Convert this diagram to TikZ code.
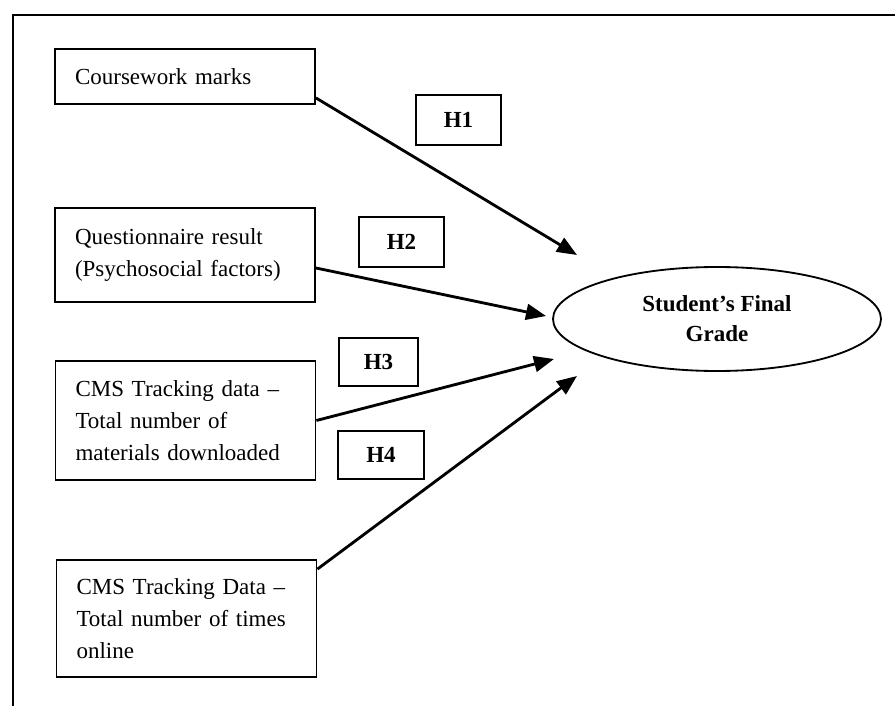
\documentclass[tikz,border=0pt]{standalone}
\usepackage{fontspec}
\setmainfont{Liberation Serif}
\usepackage{tikz}
\usetikzlibrary{arrows.meta,shapes.geometric,positioning}

\tikzset{
  inbox/.style={draw, line width=1.1pt, text width=132pt, align=left,
    inner xsep=12pt, minimum width=156pt,
    font=\fontsize{13.8}{19.2}\selectfont},
  hbox/.style={draw, line width=1.1pt, minimum width=51pt, minimum height=30pt,
    inner sep=0pt, font=\fontsize{13.8}{16}\selectfont\bfseries},
  outcome/.style={draw, ellipse, line width=1.1pt, minimum width=196.8pt,
    minimum height=62.4pt, inner sep=0pt, align=center,
    font=\fontsize{13.8}{18}\selectfont\bfseries},
  hyparrow/.style={line width=1.7pt, -{Triangle[length=12pt,width=9.5pt]}}
}

\begin{document}
\begin{tikzpicture}[x=0.6pt, y=-0.6pt]
  \useasboundingbox (0,0) rectangle (895,706);

  % frame (cut at right and bottom)
  \draw[line width=1.7pt] (13,706) -- (13,15) -- (895,15);

  % input boxes
  \node[inbox, minimum height=33pt] (cw) at (185,76.5) {Coursework marks};
  \node[inbox, minimum height=56.4pt] (qr) at (185,255) {Questionnaire result\\(Psychosocial factors)};
  \node[inbox, minimum height=71.4pt] (dl) at (185.5,420.5) {CMS Tracking data --\\Total number of\\materials downloaded};
  \node[inbox, minimum height=70.2pt] (on) at (186.5,618.5) {CMS Tracking Data --\\Total number of times\\online};

  % outcome
  \node[outcome] (grade) at (717,319) {Student's Final\\Grade};

  % hypothesis labels
  \node[hbox] (h1) at (458.5,120) {H1};
  \node[hbox] (h2) at (401.5,242) {H2};
  \node[hbox, minimum width=47.4pt, minimum height=28.8pt] (h3) at (378.5,362) {H3};
  \node[hbox, minimum width=51.6pt, minimum height=28.8pt] (h4) at (381,455) {H4};

  % arrow tips (they stop short of the ellipse)
  \coordinate (t1) at (577,255);
  \coordinate (t2) at (546,316);
  \coordinate (t3) at (554,359);
  \coordinate (t4) at (577,376);

  % hypotheses
  \draw[hyparrow] ([yshift=4.2pt]cw.south east) -- (t1);
  \draw[hyparrow] ([yshift=-7.8pt]qr.east) -- (t2);
  \draw[hyparrow] (dl.east) -- (t3);
  \draw[hyparrow] ([yshift=-6pt]on.north east) -- (t4);

\end{tikzpicture}
\end{document}
